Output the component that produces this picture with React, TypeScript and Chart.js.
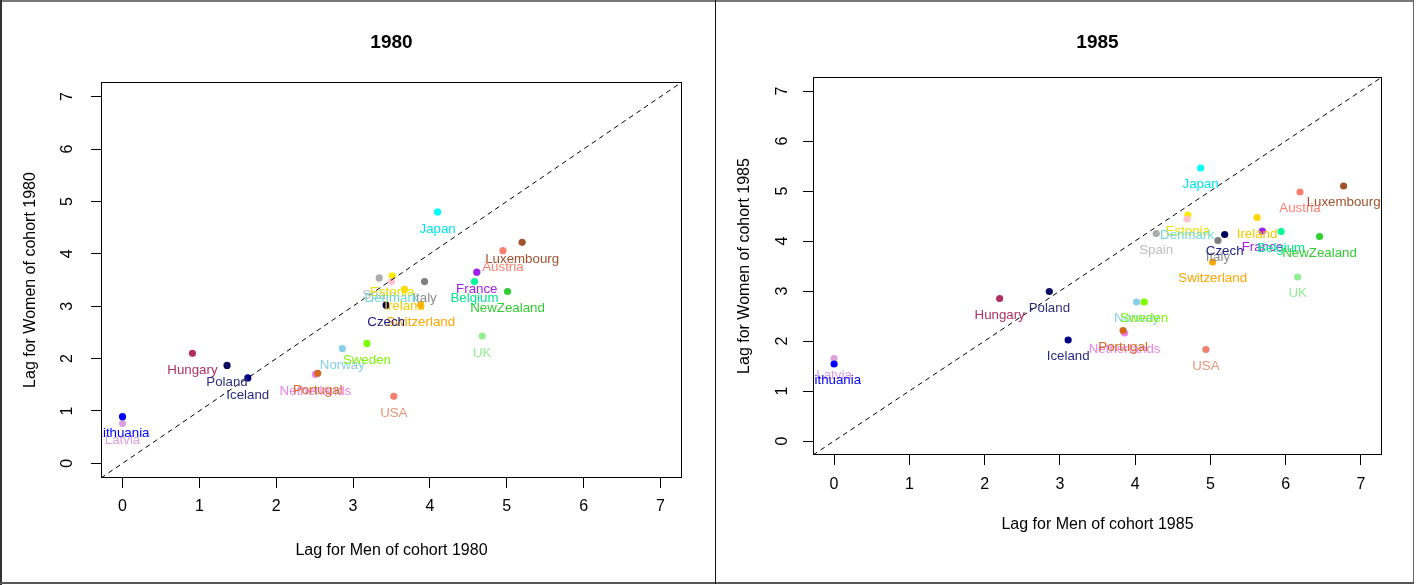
import React, { useEffect, useRef } from 'react';
import { Chart, registerables } from 'chart.js';

Chart.register(...registerables);

const countries = ['Japan', 'Luxembourg', 'Austria', 'France', 'Belgium', 'NewZealand', 'UK', 'Italy', 'Spain', 'Estonia', 'Denmark', 'Ireland', 'Switzerland', 'Czech', 'Hungary', 'Poland', 'Iceland', 'Latvia', 'Lithuania', 'Norway', 'Sweden', 'Netherlands', 'Portugal', 'USA'];

const men1980 = [4.10, 5.20, 4.95, 4.61, 4.58, 5.01, 4.68, 3.93, 3.34, 3.51, 3.50, 3.67, 3.88, 3.43, 0.91, 1.36, 1.63, 0.00, 0.00, 2.86, 3.18, 2.51, 2.54, 3.53];
const women1980 = [4.80, 4.22, 4.06, 3.65, 3.47, 3.28, 2.43, 3.47, 3.54, 3.58, 3.47, 3.32, 3.02, 3.02, 2.10, 1.87, 1.63, 0.76, 0.89, 2.19, 2.29, 1.70, 1.72, 1.28];

const men1985 = [4.87, 6.77, 6.19, 5.69, 5.94, 6.45, 6.16, 5.10, 4.28, 4.70, 4.69, 5.62, 5.03, 5.19, 2.20, 2.86, 3.11, 0.00, 0.00, 4.02, 4.12, 3.86, 3.84, 4.94];
const women1985 = [5.46, 5.10, 4.98, 4.20, 4.19, 4.09, 3.28, 4.01, 4.15, 4.52, 4.44, 4.47, 3.58, 4.13, 2.85, 2.99, 2.02, 1.65, 1.54, 2.78, 2.78, 2.16, 2.21, 1.83];

const pointColors = ['#00FFFF', '#A0522D', '#FA8072', '#A020F0', '#00FA9A', '#32CD32', '#90EE90', '#7F7F7F', '#ABABAB', '#FFEE00', '#FFC0CB', '#FFD700', '#FFA500', '#00005A', '#B03060', '#0A0A60', '#000080', '#DDA0DD', '#0000FF', '#87CEEB', '#7CFC00', '#EE82EE', '#D2691E', '#F08070'];
const labelColors = ['#00E5EE', '#A0522D', '#FA8072', '#A020F0', '#00E890', '#32CD32', '#90EE90', '#8C8C8C', '#BEBEBE', '#F0E000', '#70DCDC', '#F5C800', '#FFA500', '#1A1A80', '#B03060', '#2F2F7F', '#2A2A80', '#DDA0DD', '#0000FF', '#87CEEB', '#7CFC00', '#EE82EE', '#D2691E', '#E9967A'];

const tickValues = [0, 1, 2, 3, 4, 5, 6, 7];
const axisMin = -0.28;
const axisMax = 7.28;

const FONT = "'Liberation Sans', Arial, sans-serif";

type PanelCfg = {
  year: string;
  men: number[];
  women: number[];
  width: number;
  height: number;
  boxTop: number;
  padRight: number;
  yAxisWidth: number;
  xAxisHeight: number;
  yLabelX: number;
  yTitlePadTop: number;
  xTitlePadBottom: number;
  xTickPad: number;
  titleY: number;
  labelDy: number;
};

function buildChart(canvas: HTMLCanvasElement, cfg: PanelCfg) {
  const decor = {
    id: 'rDecor',
    afterDatasetsDraw(chart: any) {
      const ctx = chart.ctx;
      const a = chart.chartArea;
      const meta = chart.getDatasetMeta(1);
      ctx.save();
      ctx.beginPath();
      ctx.rect(a.left, a.top, a.right - a.left, a.bottom - a.top);
      ctx.clip();
      ctx.font = `13.3px ${FONT}`;
      ctx.textAlign = 'center';
      ctx.textBaseline = 'middle';
      meta.data.forEach((el: any, i: number) => {
        ctx.fillStyle = labelColors[i];
        ctx.fillText(countries[i], el.x, el.y + cfg.labelDy);
      });
      ctx.restore();

      ctx.save();
      ctx.textAlign = 'center';
      ctx.textBaseline = 'middle';
      // box
      ctx.strokeStyle = '#000';
      ctx.lineWidth = 1;
      ctx.strokeRect(Math.round(a.left) + 0.5, Math.round(a.top) + 0.5, Math.round(a.right - a.left) - 1, Math.round(a.bottom - a.top) - 1);
      // y tick labels (rotated, R style)
      const ys = chart.scales.y;
      ctx.fillStyle = '#000';
      ctx.font = `16px ${FONT}`;
      tickValues.forEach((v) => {
        const py = ys.getPixelForValue(v);
        ctx.save();
        ctx.translate(cfg.yLabelX, py);
        ctx.rotate(-Math.PI / 2);
        ctx.fillText(String(v), 0, 0);
        ctx.restore();
      });
      // main title
      ctx.font = `bold 19px ${FONT}`;
      ctx.fillText(cfg.year, (a.left + a.right) / 2, cfg.titleY);
      ctx.restore();
    },
  };

  const setTicks = (s: any) => {
    s.ticks = tickValues.map((v) => ({ value: v }));
  };

  return new Chart(canvas, {
    type: 'scatter',
    data: {
      datasets: [
        {
          type: 'line',
          data: [
            { x: axisMin, y: axisMin },
            { x: axisMax, y: axisMax },
          ],
          borderColor: '#000',
          borderWidth: 1,
          borderDash: [5, 4],
          pointRadius: 0,
          fill: false,
        } as any,
        {
          data: cfg.men.map((m, i) => ({ x: m, y: cfg.women[i] })),
          backgroundColor: pointColors,
          borderColor: pointColors,
          borderWidth: 0,
          pointRadius: 3.6,
        },
      ],
    },
    options: {
      animation: false,
      responsive: false,
      events: [],
      layout: { padding: { left: 0, right: cfg.padRight, top: cfg.boxTop, bottom: 0 } },
      plugins: {
        legend: { display: false },
        tooltip: { enabled: false },
        title: { display: false },
      },
      scales: {
        x: {
          type: 'linear',
          min: axisMin,
          max: axisMax,
          afterBuildTicks: setTicks,
          afterFit: (s: any) => {
            s.height = cfg.xAxisHeight;
          },
          grid: { drawOnChartArea: false, drawTicks: true, tickLength: 10, color: '#000', lineWidth: 1 },
          border: { display: false },
          ticks: { font: { family: FONT, size: 16 }, color: '#000', padding: cfg.xTickPad, maxRotation: 0, autoSkip: false },
          title: {
            display: true,
            text: `Lag for Men of cohort ${cfg.year}`,
            font: { family: FONT, size: 16 },
            color: '#000',
            padding: { top: 0, bottom: cfg.xTitlePadBottom },
          },
        },
        y: {
          type: 'linear',
          min: axisMin,
          max: axisMax,
          afterBuildTicks: setTicks,
          afterFit: (s: any) => {
            s.width = cfg.yAxisWidth;
          },
          grid: { drawOnChartArea: false, drawTicks: true, tickLength: 10, color: '#000', lineWidth: 1 },
          border: { display: false },
          ticks: { display: false },
          title: {
            display: true,
            text: `Lag for Women of cohort ${cfg.year}`,
            font: { family: FONT, size: 16 },
            color: '#000',
            padding: { top: cfg.yTitlePadTop, bottom: 0 },
          },
        },
      },
    },
    plugins: [decor],
  } as any);
}

const leftCfg: PanelCfg = {
  year: '1980',
  men: men1980,
  women: women1980,
  width: 715,
  height: 585,
  boxTop: 82,
  padRight: 33,
  yAxisWidth: 101,
  xAxisHeight: 107,
  yLabelX: 68,
  yTitlePadTop: 21,
  xTitlePadBottom: 25,
  xTickPad: 9,
  titleY: 43,
  labelDy: 17,
};

const rightCfg: PanelCfg = {
  year: '1985',
  men: men1985,
  women: women1985,
  width: 700,
  height: 585,
  boxTop: 77,
  padRight: 34,
  yAxisWidth: 97,
  xAxisHeight: 130,
  yLabelX: 67,
  yTitlePadTop: 19,
  xTitlePadBottom: 51,
  xTickPad: 10,
  titleY: 43,
  labelDy: 16.5,
};

function Panel({ cfg, left }: { cfg: PanelCfg; left: number }) {
  const ref = useRef<HTMLCanvasElement | null>(null);
  useEffect(() => {
    if (!ref.current) return;
    const chart = buildChart(ref.current, cfg);
    return () => chart.destroy();
  }, [cfg]);
  return (
    <canvas
      ref={ref}
      width={cfg.width}
      height={cfg.height}
      style={{ position: 'absolute', left, top: 0, width: cfg.width, height: cfg.height }}
    />
  );
}

export default function App() {
  return (
    <div style={{ position: 'fixed', left: 0, top: 0, width: 1416, height: 585, background: '#fff', overflow: 'hidden' }}>
      <Panel cfg={leftCfg} left={0} />
      <Panel cfg={rightCfg} left={716} />
      <div style={{ position: 'absolute', left: 0, top: 0, width: 1414, height: 2, background: '#777' }} />
      <div style={{ position: 'absolute', left: 0, top: 0, width: 2, height: 585, background: '#333' }} />
      <div style={{ position: 'absolute', left: 1413, top: 0, width: 1, height: 584, background: '#666' }} />
      <div style={{ position: 'absolute', left: 0, top: 582, width: 1414, height: 2, background: '#555' }} />
      <div style={{ position: 'absolute', left: 715, top: 0, width: 1, height: 584, background: '#111' }} />
    </div>
  );
}
